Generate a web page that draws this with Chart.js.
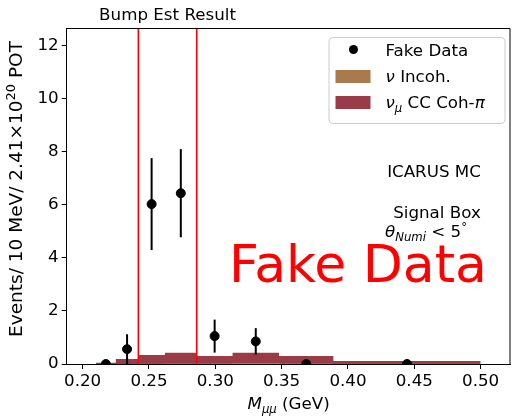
<!DOCTYPE html>
<html>
<head>
<meta charset="utf-8">
<script src="https://cdn.jsdelivr.net/npm/chart.js@4/dist/chart.umd.min.js"></script>
<style>
  html, body { margin: 0; padding: 0; background: #fff; }
  #c { display: block; }
</style>
</head>
<body>
<canvas id="c" width="516" height="416"></canvas>
<script>
// histogram bins (GeV) and stacked MC contributions, events / 10 MeV
var binEdges = [0.21, 0.225, 0.242, 0.262, 0.286, 0.313, 0.348, 0.389, 0.50];
var incohVals = [0.0, 0.0, 0.01, 0.02, 0.02, 0.04, 0.02, 0.01];
var cohPiVals = [0.05, 0.19, 0.33, 0.40, 0.28, 0.38, 0.28, 0.10];

// fake data points at bin centres with errors
var dataX = [0.2175, 0.2335, 0.252, 0.274, 0.2995, 0.3305, 0.3685, 0.4445];
var dataY = [0, 0.56, 6.02, 6.43, 1.05, 0.85, 0, 0];
var dataErr = [0, 0.56, 1.73, 1.66, 0.62, 0.50, 0, 0];

// signal box edges
var boxEdges = [0.242, 0.286];

var xTicks = [0.20, 0.25, 0.30, 0.35, 0.40, 0.45, 0.50];
var yTicks = [0, 2, 4, 6, 8, 10, 12];
var xRange = [0.188, 0.5225];
var yRange = [0, 12.65];

var FONT = "'DejaVu Sans', sans-serif";
var RED = "#9a3c48";
var BROWN = "#a87a4c";

function stepPoints(vals) {
  var pts = vals.map(function (v, i) { return { x: binEdges[i], y: v }; });
  pts.push({ x: binEdges[binEdges.length - 1], y: vals[vals.length - 1] });
  return pts;
}

var stacked = cohPiVals.map(function (v, i) { return v + incohVals[i]; });

// draw a row of text pieces (for sub/superscripts)
function drawRuns(ctx, x, y, runs, align) {
  var total = 0;
  runs.forEach(function (r) { ctx.font = r.font; total += ctx.measureText(r.t).width; });
  var cx = align === "center" ? x - total / 2 : (align === "right" ? x - total : x);
  ctx.textAlign = "left";
  ctx.textBaseline = "alphabetic";
  runs.forEach(function (r) {
    ctx.font = r.font;
    ctx.fillText(r.t, cx, y + (r.dy || 0));
    cx += ctx.measureText(r.t).width;
  });
}

var decor = {
  id: "decor",
  afterDatasetsDraw: function (chart) {
    var ctx = chart.ctx, xs = chart.scales.x, ys = chart.scales.y;
    ctx.save();
    ctx.strokeStyle = "#000";
    ctx.lineWidth = 2;
    dataX.forEach(function (x, i) {
      if (!dataErr[i]) return;
      var px = xs.getPixelForValue(x);
      ctx.beginPath();
      ctx.moveTo(px, ys.getPixelForValue(dataY[i] - dataErr[i]));
      ctx.lineTo(px, ys.getPixelForValue(dataY[i] + dataErr[i]));
      ctx.stroke();
    });
    ctx.restore();
  },
  afterDraw: function (chart) {
    var ctx = chart.ctx, a = chart.chartArea, xs = chart.scales.x;
    ctx.save();

    // top and right spines
    ctx.strokeStyle = "#000";
    ctx.lineWidth = 1;
    ctx.beginPath();
    ctx.moveTo(a.left, a.top + 0.5);
    ctx.lineTo(a.right - 0.5, a.top + 0.5);
    ctx.lineTo(a.right - 0.5, a.bottom);
    ctx.stroke();

    ctx.fillStyle = "#000";
    var f = "16.7px " + FONT, fi = "italic 16.7px " + FONT, fs = "italic 11.7px " + FONT;

    // title over the signal box
    ctx.font = f;
    ctx.textAlign = "center";
    ctx.fillText("Bump Est Result", xs.getPixelForValue((boxEdges[0] + boxEdges[1]) / 2), 20);

    // axis titles
    drawRuns(ctx, (a.left + a.right) / 2, 409, [
      { t: "M", font: fi },
      { t: "\u03bc\u03bc", font: fs, dy: 3.5 },
      { t: " (GeV)", font: f }
    ], "center");

    ctx.save();
    ctx.translate(22, 189);
    ctx.rotate(-Math.PI / 2);
    var fy = "18.5px " + FONT;
    drawRuns(ctx, 0, 0, [
      { t: "Events/ 10 MeV/ 2.41\u00d710", font: fy },
      { t: "20", font: "13px " + FONT, dy: -7.5 },
      { t: " POT", font: fy }
    ], "center");
    ctx.restore();

    // annotations
    ctx.font = f;
    ctx.textAlign = "center";
    ctx.fillText("ICARUS MC", 434, 177);
    ctx.fillText("Signal Box", 437, 218);
    drawRuns(ctx, 385, 237, [
      { t: "\u03b8", font: fi },
      { t: "Numi", font: fs, dy: 3.5 },
      { t: " < 5", font: f },
      { t: "\u00b0", font: "11.7px " + FONT, dy: -6 }
    ], "left");

    ctx.fillStyle = "#ff0000";
    ctx.font = "52px " + FONT;
    ctx.textAlign = "left";
    ctx.fillText("Fake Data", 229, 282);

    // legend
    var lx = a.right - 182, ly = a.top + 9, lw = 176, lh = 86;
    ctx.fillStyle = "rgba(255,255,255,0.8)";
    ctx.strokeStyle = "#cccccc";
    ctx.lineWidth = 1;
    ctx.beginPath();
    ctx.roundRect(lx + 0.5, ly + 0.5, lw, lh, 4);
    ctx.fill();
    ctx.stroke();

    ctx.fillStyle = "#000";
    ctx.beginPath();
    ctx.arc(lx + 25, ly + 12.5, 4.5, 0, Math.PI * 2);
    ctx.fill();
    ctx.font = f;
    ctx.fillText("Fake Data", lx + 57, ly + 19);

    ctx.fillStyle = BROWN;
    ctx.fillRect(lx + 7, ly + 33, 35, 13);
    ctx.fillStyle = "#000";
    drawRuns(ctx, lx + 57, ly + 45, [
      { t: "\u03bd", font: fi },
      { t: " Incoh.", font: f }
    ], "left");

    ctx.fillStyle = RED;
    ctx.fillRect(lx + 7, ly + 59, 35, 13);
    ctx.fillStyle = "#000";
    drawRuns(ctx, lx + 57, ly + 71, [
      { t: "\u03bd", font: fi },
      { t: "\u03bc", font: fs, dy: 3.5 },
      { t: " CC Coh-", font: f },
      { t: "\u03c0", font: fi }
    ], "left");

    ctx.restore();
  }
};

var tickFont = { family: FONT, size: 16.7 };

new Chart(document.getElementById("c"), {
  type: "scatter",
  data: {
    datasets: [
      {
        label: "Fake Data",
        data: dataX.map(function (x, i) { return { x: x, y: dataY[i] }; }),
        backgroundColor: "#000",
        borderColor: "#000",
        pointRadius: 4.5,
        order: 0
      },
      {
        type: "line",
        label: "box low",
        data: [{ x: boxEdges[0], y: yRange[0] }, { x: boxEdges[0], y: yRange[1] }],
        borderColor: "#ff0000",
        borderWidth: 1.6,
        pointRadius: 0,
        order: 1
      },
      {
        type: "line",
        label: "box high",
        data: [{ x: boxEdges[1], y: yRange[0] }, { x: boxEdges[1], y: yRange[1] }],
        borderColor: "#ff0000",
        borderWidth: 1.6,
        pointRadius: 0,
        order: 1
      },
      {
        type: "line",
        label: "\u03bd Incoh.",
        data: stepPoints(incohVals),
        stepped: true,
        fill: "origin",
        backgroundColor: BROWN,
        borderColor: "transparent",
        borderWidth: 0,
        pointRadius: 0,
        order: 2
      },
      {
        type: "line",
        label: "\u03bd\u03bc CC Coh-\u03c0",
        data: stepPoints(stacked),
        stepped: true,
        fill: "origin",
        backgroundColor: RED,
        borderColor: "transparent",
        borderWidth: 0,
        pointRadius: 0,
        order: 3
      }
    ]
  },
  options: {
    responsive: false,
    animation: false,
    devicePixelRatio: 1,
    layout: { padding: { top: 28, right: 1, left: 0, bottom: 0 } },
    plugins: { legend: { display: false }, tooltip: { enabled: false } },
    scales: {
      x: {
        type: "linear",
        min: xRange[0],
        max: xRange[1],
        afterBuildTicks: function (s) { s.ticks = xTicks.map(function (v) { return { value: v }; }); },
        afterFit: function (s) { s.height = 52; s.paddingLeft = 0; s.paddingRight = 0; },
        ticks: {
          font: tickFont, color: "#000", padding: 3, maxRotation: 0, autoSkip: false,
          callback: function (v) { return v.toFixed(2); }
        },
        grid: { drawOnChartArea: false, drawTicks: true, tickLength: 5, color: "#000" },
        border: { color: "#000", width: 1 }
      },
      y: {
        min: yRange[0],
        max: yRange[1],
        afterBuildTicks: function (s) { s.ticks = yTicks.map(function (v) { return { value: v }; }); },
        afterFit: function (s) { s.width = 66.7; s.paddingTop = 0; s.paddingBottom = 0; },
        ticks: {
          font: tickFont, color: "#000", padding: 3, autoSkip: false,
          callback: function (v) { return String(v); }
        },
        grid: { drawOnChartArea: false, drawTicks: true, tickLength: 5, color: "#000" },
        border: { color: "#000", width: 1 }
      }
    }
  },
  plugins: [decor]
});
</script>
</body>
</html>
